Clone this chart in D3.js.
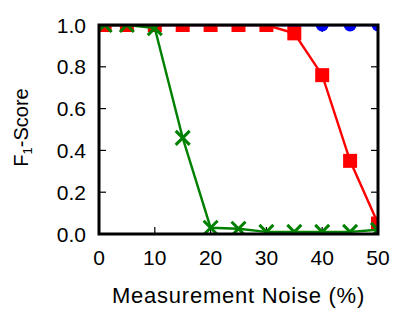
<!DOCTYPE html>
<html>
<head>
<meta charset="utf-8">
<script src="https://cdn.jsdelivr.net/npm/d3@7"></script>
<style>
  body { margin: 0; background: #fff; }
  text { font-family: "Liberation Sans", Arial, sans-serif; fill: #000; }
</style>
</head>
<body>
<svg id="chart" width="398" height="326"></svg>
<script>
// Data
const noise = [1, 5, 10, 15, 20, 25, 30, 35, 40, 45, 50];
const blueF1 = [1, 1, 1, 1, 1, 1, 1, 1, 1, 1, 1];
const redF1 = [1, 1, 1, 1, 1, 1, 1, 0.96, 0.76, 0.35, 0.05];
const greenF1 = [1, 1, 0.985, 0.46, 0.03, 0.025, 0.01, 0.01, 0.01, 0.01, 0.02];
const xTicks = [0, 10, 20, 30, 40, 50];
const yTicks = [0, 0.2, 0.4, 0.6, 0.8, 1.0];

const margin = {top: 25, right: 20, bottom: 92, left: 99};
const W = 398, H = 326;
const w = W - margin.left - margin.right;
const h = H - margin.top - margin.bottom;

const svg = d3.select('#chart');
const g = svg.append('g').attr('transform', `translate(${margin.left},${margin.top})`);

const x = d3.scaleLinear().domain([0, 50]).range([0, w]);
const y = d3.scaleLinear().domain([0, 1]).range([h, 0]);

svg.append('defs').append('clipPath').attr('id', 'clip')
  .append('rect').attr('width', w).attr('height', h);

// ticks (inward, on all four sides)
const tickLen = 7;
xTicks.forEach(t => {
  g.append('line').attr('x1', x(t)).attr('x2', x(t)).attr('y1', h).attr('y2', h - tickLen)
    .attr('stroke', '#000').attr('stroke-width', 1.2);
  g.append('line').attr('x1', x(t)).attr('x2', x(t)).attr('y1', 0).attr('y2', tickLen)
    .attr('stroke', '#000').attr('stroke-width', 1.2);
  g.append('text').attr('x', x(t)).attr('y', h + 31)
    .attr('text-anchor', 'middle').attr('font-size', 21).text(t);
});
yTicks.forEach(t => {
  g.append('line').attr('x1', 0).attr('x2', tickLen).attr('y1', y(t)).attr('y2', y(t))
    .attr('stroke', '#000').attr('stroke-width', 1.2);
  g.append('line').attr('x1', w).attr('x2', w - tickLen).attr('y1', y(t)).attr('y2', y(t))
    .attr('stroke', '#000').attr('stroke-width', 1.2);
  g.append('text').attr('x', -13).attr('y', y(t)).attr('dy', '0.36em')
    .attr('text-anchor', 'end').attr('font-size', 21).text(t.toFixed(1));
});

const plot = g.append('g').attr('clip-path', 'url(#clip)');
const line = d3.line().x(d => x(d[0])).y(d => y(d[1]));

function series(vals, color) {
  const pts = noise.map((n, i) => [n, vals[i]]);
  plot.append('path').datum(pts).attr('d', line)
    .attr('fill', 'none').attr('stroke', color).attr('stroke-width', 2.4);
  return pts;
}

// blue circles
const bluePts = series(blueF1, '#0000ff');
plot.selectAll('.circ').data(bluePts).enter().append('circle')
  .attr('cx', d => x(d[0])).attr('cy', d => y(d[1])).attr('r', 6.5).attr('fill', '#0000ff');

// red squares
const redPts = series(redF1, '#ff0000');
const sq = 14;
plot.selectAll('.sq').data(redPts).enter().append('rect')
  .attr('x', d => x(d[0]) - sq / 2).attr('y', d => y(d[1]) - sq / 2)
  .attr('width', sq).attr('height', sq).attr('fill', '#ff0000');

// green crosses
const greenPts = series(greenF1, '#008000');
const cs = 7;
plot.selectAll('.cross').data(greenPts).enter().append('path')
  .attr('d', d => {
    const cx = x(d[0]), cy = y(d[1]);
    return `M${cx - cs},${cy - cs}L${cx + cs},${cy + cs}M${cx - cs},${cy + cs}L${cx + cs},${cy - cs}`;
  })
  .attr('stroke', '#008000').attr('stroke-width', 3).attr('fill', 'none');

// frame
g.append('rect').attr('width', w).attr('height', h)
  .attr('fill', 'none').attr('stroke', '#000').attr('stroke-width', 3);

// axis titles
g.append('text').attr('x', w / 2 + 0).attr('y', h + 69)
  .attr('text-anchor', 'middle').attr('font-size', 22).attr('letter-spacing', 0.75)
  .text('Measurement Noise (%)');

const yl = svg.append('text')
  .attr('transform', `translate(28,${margin.top + h / 2 - 2}) rotate(-90)`)
  .attr('text-anchor', 'middle').attr('font-size', 20);
yl.append('tspan').text('F');
yl.append('tspan').attr('font-size', 13).attr('dy', 4).text('1');
yl.append('tspan').attr('dy', -4).text('-Score');
</script>
</body>
</html>
